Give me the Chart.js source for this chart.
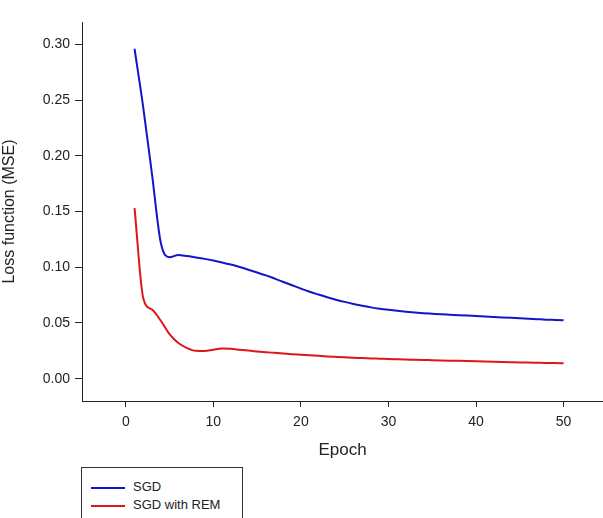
<!DOCTYPE html>
<html>
<head>
<meta charset="utf-8">
<script src="https://cdn.jsdelivr.net/npm/chart.js@4"></script>
<style>
  html, body { margin: 0; padding: 0; background: #fff; }
  #wrap { position: relative; width: 603px; height: 518px; overflow: hidden; }
  #legend {
    position: absolute; left: 81px; top: 467px; width: 160px; height: 70px;
    border: 1px solid #333; background: #fff;
    font-family: "Liberation Sans", Arial, sans-serif; font-size: 13px; color: #222;
  }
  .item { position: absolute; left: 9px; height: 16px; line-height: 16px; }
  .item span.sw { display: inline-block; width: 34px; height: 0; border-top: 2px solid; vertical-align: middle; margin-right: 8px; }
</style>
</head>
<body>
<div id="wrap">
  <canvas id="lossChart" width="603" height="518"></canvas>
  <div id="legend">
    <div class="item" style="top:11px"><span class="sw" style="border-color:rgb(20,20,200)"></span>SGD</div>
    <div class="item" style="top:29px"><span class="sw" style="border-color:rgb(225,20,25)"></span>SGD with REM</div>
  </div>
</div>
<script>
// ----------------------
// Datos
// ----------------------
const epochs = [1,2,3,4,5,6,7,8,9,10,11,12,13,14,15,16,17,18,19,20,21,22,23,24,25,
                26,27,28,29,30,31,32,33,34,35,36,37,38,39,40,41,42,43,44,45,46,47,48,49,50];

const sgd = [0.296,0.243,0.183,0.122,0.109,0.111,0.110,0.1088,0.1075,0.1060,
             0.1043,0.1024,0.1002,0.0978,0.0953,0.0927,0.0898,0.0868,0.0838,0.0808,
             0.0780,0.0755,0.0731,0.0709,0.0689,0.0671,0.0655,0.0640,0.0628,0.0618,
             0.0609,0.0601,0.0594,0.0588,0.0583,0.0578,0.0574,0.0570,0.0566,0.0562,
             0.0558,0.0554,0.0550,0.0546,0.0542,0.0538,0.0534,0.0530,0.0527,0.0524];

const sgdRem = [0.153,0.072,0.062,0.052,0.040,0.032,0.0275,0.025,0.0248,0.026,
                0.027,0.0268,0.026,0.0252,0.0245,0.0238,0.0232,0.0226,0.022,0.0215,
                0.021,0.0205,0.020,0.0196,0.0192,0.0188,0.0185,0.0182,0.0179,0.0176,
                0.0174,0.0172,0.017,0.0168,0.0166,0.0164,0.0162,0.016,0.0158,0.0156,
                0.0154,0.0152,0.015,0.0148,0.0146,0.0145,0.0143,0.0141,0.014,0.0138];

const xTicks = [0, 10, 20, 30, 40, 50];
const yTicks = [0, 0.05, 0.10, 0.15, 0.20, 0.25, 0.30];

const FONT = '"Liberation Sans", Arial, sans-serif';
const toPoints = arr => arr.map((v, i) => ({ x: epochs[i], y: v }));

const ctx = document.getElementById('lossChart').getContext('2d');
new Chart(ctx, {
  type: 'line',
  data: {
    datasets: [
      { label: 'SGD', data: toPoints(sgd), borderColor: 'rgb(20,20,200)', borderWidth: 2,
        pointRadius: 0, fill: false, cubicInterpolationMode: 'monotone' },
      { label: 'SGD with REM', data: toPoints(sgdRem), borderColor: 'rgb(225,20,25)', borderWidth: 2,
        pointRadius: 0, fill: false, cubicInterpolationMode: 'monotone' }
    ]
  },
  options: {
    responsive: false,
    animation: false,
    layout: { padding: { top: 22, right: 0, bottom: 57, left: 0 } },
    plugins: { legend: { display: false }, tooltip: { enabled: false } },
    scales: {
      x: {
        type: 'linear', min: -5, max: 54.5,
        afterBuildTicks: s => { s.ticks = xTicks.map(v => ({ value: v })); },
        afterFit: s => { s.height = 60; },
        grid: { drawOnChartArea: false, drawTicks: true, tickLength: 6, color: '#222' },
        border: { display: true, color: '#222', width: 1 },
        ticks: { color: '#222', font: { family: FONT, size: 14 }, padding: 7, maxRotation: 0 },
        title: { display: true, text: 'Epoch', color: '#222', font: { family: FONT, size: 17 }, padding: 0 }
      },
      y: {
        min: -0.02, max: 0.32,
        afterBuildTicks: s => { s.ticks = yTicks.map(v => ({ value: v })); },
        afterFit: s => { s.width = 82; },
        grid: { drawOnChartArea: false, drawTicks: true, tickLength: 7, color: '#222' },
        border: { display: true, color: '#222', width: 1 },
        ticks: { color: '#222', font: { family: FONT, size: 14 }, padding: 5,
                 callback: v => v.toFixed(2) },
        title: { display: true, text: 'Loss function (MSE)', color: '#222', font: { family: FONT, size: 16 }, padding: 0 }
      }
    }
  }
});
</script>
</body>
</html>
